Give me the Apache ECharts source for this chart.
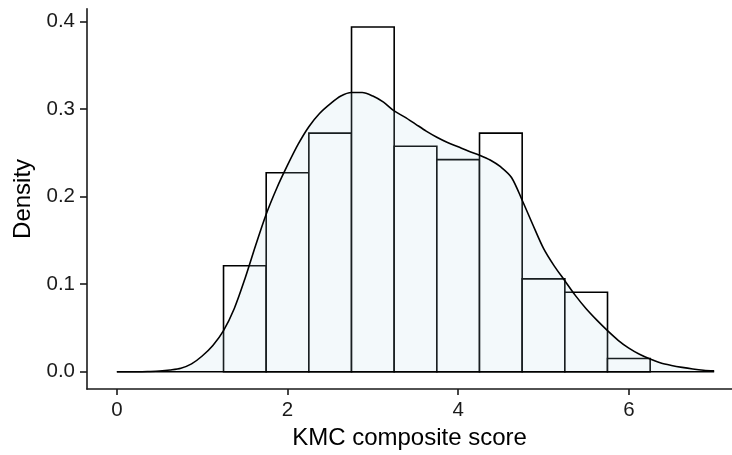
<!DOCTYPE html>
<html>
<head>
<meta charset="utf-8">
<script src="https://cdn.jsdelivr.net/npm/echarts@6/dist/echarts.min.js"></script>
<style>
html,body{margin:0;padding:0;background:#fff;}
#chart{width:732px;height:455px;}
</style>
</head>
<body>
<div id="chart"></div>
<script>
// Histogram bins (bin width 0.5) and their densities
const binStarts = [1.25, 1.75, 2.25, 2.75, 3.25, 3.75, 4.25, 4.75, 5.25, 5.75];
const binEnds   = [1.75, 2.25, 2.75, 3.25, 3.75, 4.25, 4.75, 5.25, 5.75, 6.25];
const binDensity = [0.1212, 0.2273, 0.2727, 0.3939, 0.2576, 0.2424, 0.2727, 0.1061, 0.0909, 0.0152];

// Kernel density curve
const densX = [0, 0.125, 0.25, 0.375, 0.5, 0.625, 0.75, 0.875, 1.0, 1.125, 1.25, 1.375, 1.5, 1.625, 1.75, 1.875,
  2.0, 2.125, 2.25, 2.375, 2.5, 2.625, 2.75, 2.875, 3.0, 3.125, 3.25, 3.375, 3.5, 3.625, 3.75, 3.875,
  4.0, 4.125, 4.25, 4.375, 4.5, 4.625, 4.75, 4.875, 5.0, 5.125, 5.25, 5.375, 5.5, 5.625, 5.75, 5.875,
  6.0, 6.125, 6.25, 6.375, 6.5, 6.625, 6.75, 6.875, 7.0];
const densY = [0, 0, 0, 0.0003, 0.0008, 0.002, 0.004, 0.009, 0.018, 0.030, 0.047, 0.072, 0.106, 0.144, 0.180, 0.210,
  0.236, 0.260, 0.280, 0.295, 0.306, 0.315, 0.319, 0.319, 0.315, 0.308, 0.298, 0.291, 0.283, 0.275, 0.268, 0.262,
  0.257, 0.252, 0.2475, 0.242, 0.234, 0.222, 0.196, 0.168, 0.141, 0.121, 0.104, 0.087, 0.072, 0.059, 0.047, 0.036,
  0.027, 0.020, 0.0145, 0.010, 0.0072, 0.0050, 0.0032, 0.0018, 0.001];

const xTicks = [0, 2, 4, 6];
const yTicks = [0, 0.1, 0.2, 0.3, 0.4];

const xTitle = 'KMC composite score';
const yTitle = 'Density';

const histData = binStarts.map((s, i) => [s, binEnds[i], binDensity[i]]);
const densData = densX.map((x, i) => [x, densY[i]]);
const baseData = [[densX[0], 0], [densX[densX.length - 1], 0]];

const axisColor = '#1a1a1a';
const font = 'Liberation Sans, Arial, sans-serif';

const chart = echarts.init(document.getElementById('chart'), null, {renderer: 'canvas'});
chart.setOption({
  animation: false,
  backgroundColor: '#ffffff',
  grid: {left: 87, right: 0, top: 8.7, bottom: 64.3, containLabel: false},
  xAxis: {
    type: 'value',
    min: -0.35,
    max: 7.209,
    name: xTitle,
    nameLocation: 'middle',
    nameGap: 32,
    nameTextStyle: {fontFamily: font, fontSize: 24, color: '#000'},
    axisLine: {show: true, onZero: false, lineStyle: {color: axisColor, width: 1.6}},
    axisTick: {show: true, length: 6, customValues: xTicks, lineStyle: {color: axisColor, width: 1.6}},
    axisLabel: {show: true, customValues: xTicks, margin: 11, fontFamily: font, fontSize: 20.5, color: '#1a1a1a'},
    splitLine: {show: false}
  },
  yAxis: {
    type: 'value',
    min: -0.0198,
    max: 0.4148,
    name: yTitle,
    nameLocation: 'middle',
    nameGap: 48,
    nameRotate: 90,
    nameTextStyle: {fontFamily: font, fontSize: 24, color: '#000'},
    axisLine: {show: true, onZero: false, lineStyle: {color: axisColor, width: 1.6}},
    axisTick: {show: true, length: 7, customValues: yTicks, lineStyle: {color: axisColor, width: 1.6}},
    axisLabel: {show: true, customValues: yTicks, margin: 12, fontFamily: font, fontSize: 20.5, color: '#1a1a1a',
      formatter: v => Number(v).toFixed(1)},
    splitLine: {show: false}
  },
  series: [
    {
      type: 'custom',
      z: 1,
      data: histData,
      renderItem: function (params, api) {
        const p0 = api.coord([api.value(0), 0]);
        const p1 = api.coord([api.value(1), api.value(2)]);
        return {
          type: 'rect',
          shape: {x: p0[0], y: p1[1], width: p1[0] - p0[0], height: p0[1] - p1[1]},
          style: {fill: '#ffffff', stroke: '#000000', lineWidth: 1.6}
        };
      },
      encode: {x: [0, 1], y: 2}
    },
    {
      type: 'line',
      z: 3,
      data: densData,
      smooth: 0.3,
      showSymbol: false,
      symbol: 'none',
      lineStyle: {color: '#000000', width: 1.6},
      areaStyle: {color: 'rgba(173,216,230,0.2)', origin: 0}
    },
    {
      type: 'line',
      z: 4,
      data: baseData,
      showSymbol: false,
      symbol: 'none',
      lineStyle: {color: '#000000', width: 1.6}
    }
  ]
});
</script>
</body>
</html>
